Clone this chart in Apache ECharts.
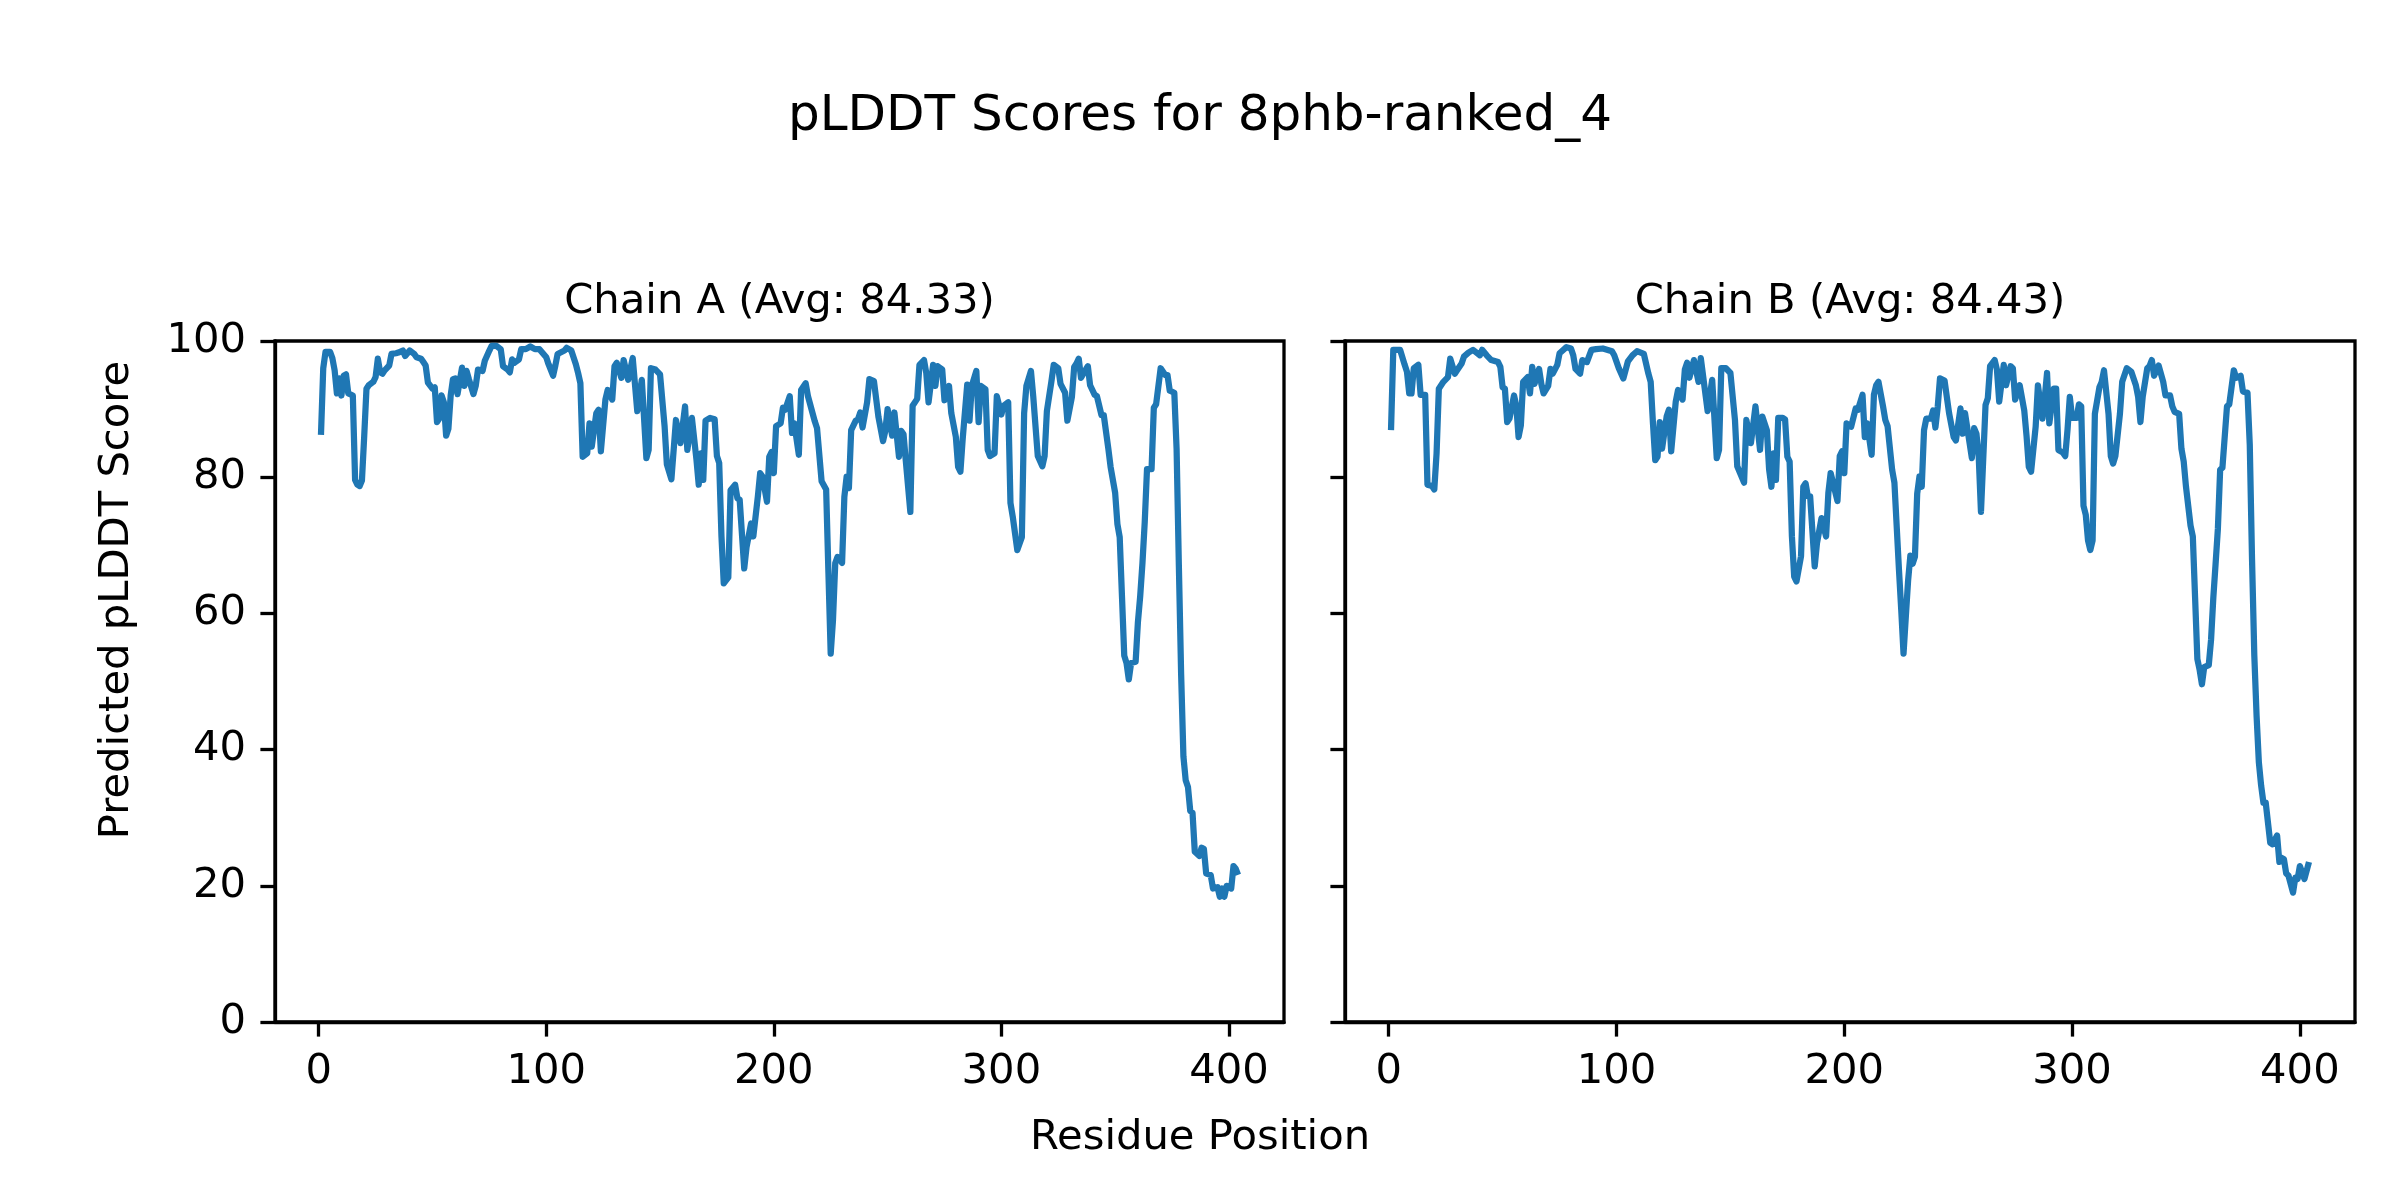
<!DOCTYPE html>
<html>
<head>
<meta charset="utf-8">
<script src="https://cdn.jsdelivr.net/npm/echarts@6/dist/echarts.min.js"></script>
<style>
  html, body { margin: 0; padding: 0; background: #fff; }
  #chart { width: 2400px; height: 1200px; }
</style>
</head>
<body>
<div id="chart"></div>
<script>
// ---- data ----
const chartTitle = 'pLDDT Scores for 8phb-ranked_4';
const chainTitles = ['Chain A (Avg: 84.33)', 'Chain B (Avg: 84.43)'];
const xLabel = 'Residue Position';
const yLabel = 'Predicted pLDDT Score';
const xTicks = [0, 100, 200, 300, 400];
const yTicks = [0, 20, 40, 60, 80, 100];

const resA = [1,2,3,5,6,7,8,9,10,11,12,13,15,16,17,18,19,20,21,22,24,25,26,27,28,29,31,32,34,35,37,38,40,42,43,45,46,47,48,50,51,52,53,54,55,56,57,58,59,60,61,63,64,65,66,68,69,70,72,73,75,76,78,80,81,83,84,85,86,88,89,91,93,95,97,100,101,103,104,105,108,109,111,113,114,115,116,118,119,120,122,123,124,126,127,129,130,131,133,134,136,138,140,142,144,145,146,148,150,152,153,155,157,159,161,162,164,166,167,168,169,170,172,174,175,176,177,178,180,181,183,184,185,187,188,190,191,193,194,195,197,198,199,200,201,203,204,205,207,208,209,211,212,214,215,218,219,221,223,224,225,226,227,228,230,231,232,233,234,236,237,238,239,241,242,244,246,248,249,250,252,253,255,256,257,258,260,261,263,264,266,267,268,270,271,272,274,275,277,278,280,281,282,283,285,286,287,289,290,291,293,294,295,297,298,300,301,303,304,305,307,309,310,311,313,314,316,318,319,320,322,323,325,326,328,329,331,332,333,334,335,336,338,339,341,342,344,345,347,348,350,351,352,353,354,355,356,357,359,360,361,362,363,364,366,367,368,370,372,373,374,376,377,378,379,380,381,382,383,384,385,387,388,389,390,392,393,395,396,397,398,399,401,402,403,404];
const scoreA = [86.2,96,98.4,98.4,97.5,95.7,92.3,94.5,92.0,94.9,95.1,92.3,92.0,79.6,78.9,78.7,79.5,86,93,93.5,94,94.7,97.4,95.4,95.2,95.7,96.4,98.1,98.2,98.3,98.6,97.8,98.6,98.1,97.6,97.4,96.9,96.4,93.9,93,93.2,88.1,88.6,92,91,86.1,87.1,92,94.4,94.5,92.2,96.1,93.4,95.6,94.4,92.2,93.4,95.8,95.6,97.1,98.6,99.3,99.3,98.8,96.3,95.8,95.4,97.3,96.8,97.3,98.8,98.8,99.2,98.8,98.8,97.6,96.6,94.9,96.4,98.1,98.6,99,98.6,96.6,95.3,93.8,83.0,83.5,87.9,84.5,89.4,89.9,83.8,91.4,92.8,91.4,96.3,96.8,94.6,97.2,94.3,97.5,89.7,94.3,82.8,84,96,95.8,95.1,87.5,81.9,79.7,88.4,85,90.4,84,88.7,82.6,78.9,83.5,79.6,88.3,88.7,88.5,83.1,82.1,71.3,64.4,65.3,78.1,78.9,76.9,76.7,66.6,69.7,73.2,71.3,77.2,80.6,80.1,76.4,83,83.7,80.6,87.5,87.9,90.2,89.9,91.9,86.5,87.9,83.3,92.8,93.8,91.9,88.2,87.2,79.4,78.2,66,54.1,59,67.4,68.3,67.4,77.1,80.1,78.4,86.9,88.3,88.5,89.5,87.3,91,94.4,94.1,88.8,85.3,86.8,90,86.1,89.5,83,86.8,86.3,82.4,74.9,90.5,91.5,96.5,97.2,95.3,91,96.5,93.4,96.3,95.8,91.3,93.4,89.4,85.9,81.5,80.8,85.6,93.6,88.3,93.4,95.6,88.1,93.4,92.9,84,83.1,83.5,91.9,89.2,90.5,91,76.2,74.2,69.3,71.2,89.4,93.4,95.6,91.9,83.1,81.6,83.1,89.7,94.1,96.5,96,93.7,92.4,88.3,91.8,96.2,96.7,97.4,94.6,95.2,96.3,93.5,92.1,91.9,89.1,89.1,84.2,81.5,77.7,73.1,71.2,62.5,53.8,52.7,50.3,52.7,52.9,58.7,62.5,67.4,73.4,81.2,81.2,90.2,90.7,96,95,95,92.7,92.4,84.2,67,51,39,35.5,34.5,31,30.7,25,24.4,25.6,25.4,21.8,21.6,19.6,19.8,18.4,19.6,18.4,20,19.6,22.9,22.5,21.6];

const resB = [1,2,5,7,8,9,10,11,13,14,16,17,19,20,21,22,24,26,27,29,30,32,33,35,37,40,41,43,45,48,49,50,51,52,53,55,56,57,58,59,61,62,63,64,66,67,68,70,71,72,74,75,78,80,81,82,84,85,87,89,91,94,98,99,101,103,105,107,109,112,114,115,116,117,118,119,120,122,123,124,126,127,129,130,131,132,134,136,137,140,142,144,145,146,148,150,152,153,156,157,159,161,163,164,166,167,168,169,170,171,173,174,175,176,177,178,179,181,182,183,184,185,187,188,190,192,193,194,197,198,199,200,201,203,205,206,208,209,210,212,213,214,215,217,218,219,221,222,224,225,226,227,228,229,230,231,232,233,234,235,236,238,239,240,241,242,244,246,248,249,251,252,253,255,256,257,258,259,260,262,263,264,266,267,268,270,271,273,274,275,277,279,280,281,282,284,285,287,288,289,290,292,293,294,295,296,297,298,299,300,302,303,304,305,306,307,308,309,310,312,313,314,316,317,318,319,321,322,324,326,328,329,330,331,333,334,335,336,338,340,341,343,344,345,347,348,349,350,352,353,354,355,356,357,358,360,361,362,363,364,365,366,368,369,371,372,374,375,377,378,379,380,381,382,383,384,385,387,388,390,391,392,393,394,395,397,398,399,400,402,404];
const scoreB = [86.9,98.7,98.7,96.5,95.5,92.3,92.3,96,96.5,92.1,92.1,78.9,78.7,78.2,83.5,93,94,94.7,97.4,95.2,95.7,96.7,97.7,98.3,98.7,97.9,98.7,97.9,97.2,96.9,96.2,93.2,93,88.1,88.6,92,90.5,85.9,87.6,94,94.7,92.3,96.2,93.7,95.9,93.7,92.3,93.4,95.9,95.2,96.5,98.2,99.1,98.9,97.9,95.9,95.2,97.2,96.9,98.7,98.8,98.9,98.5,97.9,96,94.5,97,97.9,98.5,98.1,95.2,94,87.9,82.5,83,88.1,84.2,88.9,89.9,83.8,91.1,92.8,91.4,95.8,96.8,94.6,97.2,94,97.5,89.7,94.3,82.8,84,96,96,95.3,88.4,81.6,79.2,88.4,85,90.4,84,88.9,86.9,81.1,78.6,83.5,79.6,88.7,88.7,88.5,83,82.3,71.3,65.4,64.7,68.4,78.6,79.1,77.2,77.2,66.9,70.3,74,71.3,77.7,80.6,76.5,83.1,83.8,80.6,87.9,87.4,90.1,89.9,92.1,85.9,87.9,83.3,92.1,93.5,94,90.4,88.4,87.5,81.1,79.2,66.4,60.5,54.1,59.5,64.8,68.5,67.3,68.3,77.6,80.1,78.6,86.9,88.6,88.6,89.8,87.3,90.3,94.5,94.2,89.4,85.9,85.4,90.1,86.4,89.4,85,82.8,87.2,86.4,83.1,74.9,90.6,91.6,96.3,97.2,95.8,91.1,96.5,93.5,96.3,96,91.4,93.5,89.8,86.1,81.5,80.8,87.4,93.5,88.6,91.7,95.3,87.9,93,93,84,83.8,83.6,83.1,87,91.8,88.7,88.7,90.7,90.4,75.8,74.5,70.7,69.3,70.7,89.3,93.2,94,95.7,89.3,83.1,82,83.1,89.3,94,96,95.5,93.5,91.8,88.1,91.8,96,96.3,97.2,94.9,96.4,94,92,92,90.4,89.6,89.3,84.2,82.3,78.6,72.9,71.3,62.3,53.3,51.7,49.6,52.1,52.4,56.1,62.3,67.3,72.4,81.1,81.4,90.4,90.7,95.7,94.6,94.9,92.6,92.4,84.8,67.9,53.8,44.9,38.1,34.7,32.2,32.2,26.3,26.1,27.4,23.5,24.1,23.9,21.8,21.5,19,21.2,21.0,22.9,21,23.5];

// ---- chart ----
const FONT = 'DejaVu Sans';
const FS = 41.7;
const pairs = (xs, ys) => xs.map((x, i) => [x, ys[i]]);

const gridTop = 341, gridH = 681;
const grids = [
  { left: 275, top: gridTop, width: 1009, height: gridH },
  { left: 1345, top: gridTop, width: 1010, height: gridH }
];

function xAxisFor(i) {
  return {
    type: 'value', gridIndex: i, min: -19.2, max: 424.2,
    axisLine: { show: true, onZero: false, lineStyle: { color: '#000', width: 3.3 } },
    axisTick: { show: true, length: 14.6, lineStyle: { color: '#000', width: 3.3 }, customValues: xTicks },
    axisLabel: { show: true, fontFamily: FONT, fontSize: FS, color: '#000', margin: 29, customValues: xTicks },
    splitLine: { show: false }
  };
}
function yAxisFor(i) {
  return {
    type: 'value', gridIndex: i, min: 0, max: 100, interval: 20,
    axisLine: { show: true, onZero: false, lineStyle: { color: '#000', width: 3.3 } },
    axisTick: { show: true, length: 14.6, lineStyle: { color: '#000', width: 3.3 } },
    axisLabel: { show: i === 0, fontFamily: FONT, fontSize: FS, color: '#000', margin: 29,
      formatter: v => (yTicks.indexOf(v) >= 0 ? String(v) : '') },
    splitLine: { show: false }
  };
}

const chart = echarts.init(document.getElementById('chart'), null, { renderer: 'canvas' });
chart.setOption({
  backgroundColor: '#ffffff',
  animation: false,
  grid: grids.map(g => Object.assign({ show: true, borderColor: '#000', borderWidth: 3.3, backgroundColor: 'transparent' }, g)),
  xAxis: [xAxisFor(0), xAxisFor(1)],
  yAxis: [yAxisFor(0), yAxisFor(1)],
  series: [
    { type: 'line', xAxisIndex: 0, yAxisIndex: 0, data: pairs(resA, scoreA), showSymbol: false,
      lineStyle: { color: '#1f77b4', width: 6.25, join: 'round' }, itemStyle: { color: '#1f77b4' } },
    { type: 'line', xAxisIndex: 1, yAxisIndex: 1, data: pairs(resB, scoreB), showSymbol: false,
      lineStyle: { color: '#1f77b4', width: 6.25, join: 'round' }, itemStyle: { color: '#1f77b4' } }
  ],
  graphic: [
    { type: 'text', x: 1200, y: 117, style: { text: chartTitle, font: '50px "' + FONT + '"', fill: '#000', textAlign: 'center', textVerticalAlign: 'middle' } },
    { type: 'text', x: 779.5, y: 302, style: { text: chainTitles[0], font: FS + 'px "' + FONT + '"', fill: '#000', textAlign: 'center', textVerticalAlign: 'middle' } },
    { type: 'text', x: 1850, y: 302, style: { text: chainTitles[1], font: FS + 'px "' + FONT + '"', fill: '#000', textAlign: 'center', textVerticalAlign: 'middle' } },
    { type: 'text', x: 1200, y: 1138, style: { text: xLabel, font: FS + 'px "' + FONT + '"', fill: '#000', textAlign: 'center', textVerticalAlign: 'middle' } },
    { type: 'text', x: 117, y: 600, rotation: Math.PI / 2, style: { text: yLabel, font: FS + 'px "' + FONT + '"', fill: '#000', textAlign: 'center', textVerticalAlign: 'middle' } }
  ]
});
</script>
</body>
</html>
